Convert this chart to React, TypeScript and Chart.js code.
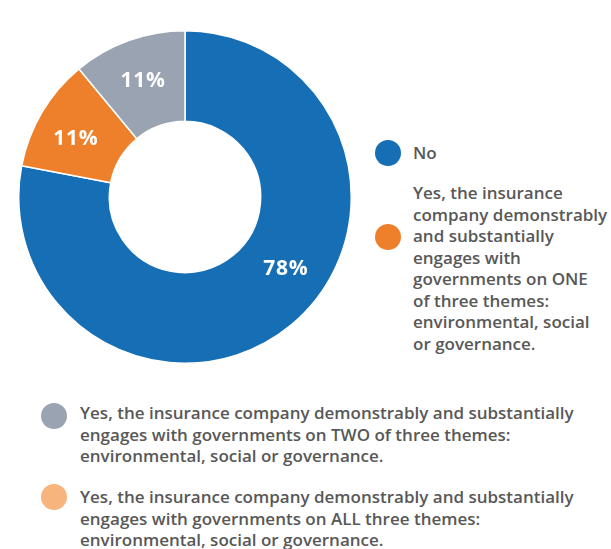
import React, { useEffect, useRef } from "react";
import { Chart, registerables } from "chart.js";

Chart.register(...registerables);

const categories = ["No", "Yes – ONE theme", "Yes – TWO themes", "Yes – ALL three themes"];
const shares = [78, 11, 11, 0];
const valueLabels = ["78%", "11%", "11%", ""];
const sliceColors = ["#166eb4", "#ef802b", "#99a3b1", "#f7b47d"];
const legendTexts = [
  "No",
  "Yes, the insurance\ncompany demonstrably\nand substantially\nengages with\ngovernments on ONE\nof three themes:\nenvironmental, social\nor governance.",
  "Yes, the insurance company demonstrably and substantially\nengages with governments on TWO of three themes:\nenvironmental, social or governance.",
  "Yes, the insurance company demonstrably and substantially\nengages with governments on ALL three themes:\nenvironmental, social or governance.",
];

const TEXT_FONT = "'Open Sans', 'Lato', sans-serif";

const labelPlugin = {
  id: "sliceLabels",
  afterDatasetsDraw(chart: any, _args: any, opts: any) {
    const ctx = chart.ctx;
    const meta = chart.getDatasetMeta(0);
    ctx.save();
    ctx.fillStyle = "#ffffff";
    ctx.font = `700 21px ${TEXT_FONT}`;
    try { (ctx as any).letterSpacing = "0.8px"; } catch (e) {}
    ctx.textAlign = "center";
    ctx.textBaseline = "middle";
    meta.data.forEach((arc: any, i: number) => {
      const txt = opts.labels[i];
      if (!txt) return;
      const p = arc.getProps(["x", "y", "startAngle", "endAngle", "innerRadius", "outerRadius"], true);
      const ang = (p.startAngle + p.endAngle) / 2 + ((opts.angleOffsets[i] || 0) * Math.PI) / 180;
      const r = p.innerRadius + (p.outerRadius - p.innerRadius) * opts.radial;
      ctx.fillText(txt, p.x + Math.cos(ang) * r, p.y + Math.sin(ang) * r);
    });
    ctx.restore();
  },
};

function Marker({ color, x, y }: { color: string; x: number; y: number }) {
  return (
    <div
      style={{
        position: "absolute",
        left: x - 13,
        top: y - 13,
        width: 26,
        height: 26,
        borderRadius: "50%",
        background: color,
      }}
    />
  );
}

function LegendText({ text, x, y }: { text: string; x: number; y: number }) {
  return (
    <div
      style={{
        position: "absolute",
        left: x,
        top: y,
        whiteSpace: "pre",
        fontFamily: TEXT_FONT,
        fontWeight: 600,
        fontSize: 17,
        lineHeight: "21.5px",
        color: "#585858",
      }}
    >
      {text}
    </div>
  );
}

export default function App() {
  const canvasRef = useRef<HTMLCanvasElement | null>(null);

  useEffect(() => {
    if (!canvasRef.current) return;
    const chart = new Chart(canvasRef.current, {
      type: "doughnut",
      data: {
        labels: categories,
        datasets: [
          {
            data: shares,
            backgroundColor: sliceColors,
            borderColor: "#ffffff",
            borderWidth: 1.5,
          },
        ],
      },
      options: {
        responsive: false,
        animation: false,
        cutout: "45.5%",
        layout: { padding: 0 },
        plugins: {
          legend: { display: false },
          tooltip: { enabled: false },
          sliceLabels: { labels: valueLabels, radial: 0.53, angleOffsets: [-15, -2.5, 0, 0] },
        } as any,
      },
      plugins: [labelPlugin],
    });
    return () => chart.destroy();
  }, []);

  return (
    <div style={{ position: "fixed", left: 0, top: 0, width: 611, height: 549, background: "#fff", overflow: "hidden" }}>
      <canvas
        ref={canvasRef}
        width={334}
        height={334}
        style={{ position: "absolute", left: 18, top: 30, width: 334, height: 334 }}
      />
      <Marker color={sliceColors[0]} x={388} y={153} />
      <LegendText text={legendTexts[0]} x={413} y={142} />
      <Marker color={sliceColors[1]} x={388} y={237} />
      <LegendText text={legendTexts[1]} x={413} y={182} />
      <Marker color={sliceColors[2]} x={54} y={416} />
      <LegendText text={legendTexts[2]} x={80} y={402} />
      <Marker color={sliceColors[3]} x={54} y={497} />
      <LegendText text={legendTexts[3]} x={80} y={486} />
    </div>
  );
}
